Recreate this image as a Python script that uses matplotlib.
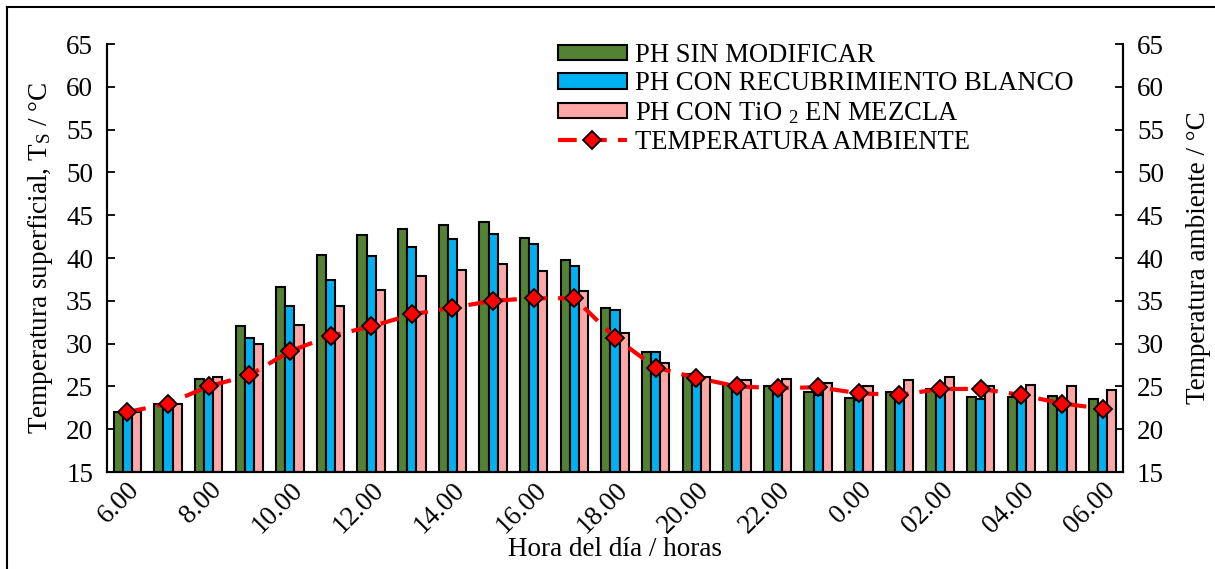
import numpy as np
import matplotlib
matplotlib.use('Agg')
import matplotlib.pyplot as plt
from matplotlib.lines import Line2D

plt.rcParams['font.family'] = ['Liberation Serif', 'DejaVu Serif']
plt.rcParams['mathtext.fontset'] = 'custom'
plt.rcParams['mathtext.rm'] = 'Liberation Serif'
plt.rcParams['mathtext.it'] = 'Liberation Serif:italic'

# ── datos ─────────────────────────────────────────────────────────
horas = ['6.00', '7.00', '8.00', '9.00', '10.00', '11.00', '12.00', '13.00',
         '14.00', '15.00', '16.00', '17.00', '18.00', '19.00', '20.00', '21.00',
         '22.00', '23.00', '0.00', '01.00', '02.00', '03.00', '04.00', '05.00',
         '06.00']
sin_modificar = [22.0, 23.0, 25.9, 32.1, 36.6, 40.3, 42.7, 43.4, 43.9, 44.2,
                 42.3, 39.8, 34.2, 29.0, 26.4, 25.3, 25.0, 24.3, 23.7, 24.3,
                 24.7, 23.8, 23.8, 23.9, 23.5]
recub_blanco = [21.8, 22.8, 25.5, 30.7, 34.4, 37.4, 40.2, 41.3, 42.2, 42.8,
                41.6, 39.1, 33.9, 29.0, 26.0, 25.0, 24.8, 24.0, 23.4, 24.0,
                24.6, 23.5, 23.6, 23.2, 22.4]
tio2_mezcla = [22.0, 23.0, 26.1, 29.9, 32.2, 34.4, 36.3, 37.9, 38.6, 39.3,
               38.5, 36.1, 31.2, 27.7, 26.1, 25.7, 25.9, 25.4, 25.0, 25.8,
               26.1, 25.0, 25.2, 25.1, 24.6]
t_ambiente = [22.0, 23.0, 25.0, 26.3, 29.1, 30.9, 32.0, 33.4, 34.2, 35.0,
              35.3, 35.3, 30.7, 27.2, 26.0, 25.0, 24.8, 24.9, 24.2, 24.0,
              24.7, 24.7, 24.0, 23.0, 22.4]

series = ['PH SIN MODIFICAR', 'PH CON RECUBRIMIENTO BLANCO',
          'PH CON TiO $_{2}$ EN MEZCLA', 'TEMPERATURA AMBIENTE']

FS = 19.5

# ── figura ────────────────────────────────────────────────────────
fig = plt.figure(figsize=(12.15, 5.69), dpi=100)
ax = fig.add_axes([107 / 1215, 97 / 569, 1016 / 1215, 428 / 569])

x = np.arange(len(horas))
w = 0.225
kw = dict(edgecolor='black', linewidth=1.5, zorder=2)
ax.bar(x - w, sin_modificar, w, color='#548235', label=series[0], **kw)
ax.bar(x, recub_blanco, w, color='#00B0F0', label=series[1], **kw)
ax.bar(x + w, tio2_mezcla, w, color='#FFA7A7', label=series[2], **kw)

ax.set_ylim(15, 65)
ax.set_xlim(-0.5, len(horas) - 0.5)
ax.set_yticks(np.arange(15, 66, 5))
ax.set_xticks(x[::2])
ax.set_xticklabels(horas[::2], rotation=45, ha='right', va='top',
                   rotation_mode='anchor')
ax.tick_params(axis='x', length=0, labelsize=FS, pad=4)
ax.tick_params(axis='y', direction='in', length=6, width=1.3, labelsize=FS,
               pad=10)
ax.spines['top'].set_visible(False)
for s in ['left', 'right', 'bottom']:
    ax.spines[s].set_linewidth(1.5)

ax.set_ylabel('Temperatura superficial, T$_{\\rm S}$ / °C', fontsize=FS,
              labelpad=8)
ax.set_xlabel('Hora del día / horas', fontsize=FS, labelpad=-1)

# eje derecho
ax2 = ax.twinx()
ax2.set_ylim(15, 65)
ax2.set_yticks(np.arange(15, 66, 5))
ax2.tick_params(axis='y', direction='in', length=6, width=1.3, labelsize=FS,
                pad=10)
ax2.spines['top'].set_visible(False)
for s in ['left', 'right', 'bottom']:
    ax2.spines[s].set_linewidth(1.5)
ax2.set_ylabel('Temperatura ambiente / °C', fontsize=FS, labelpad=16)

ax2.plot(x, t_ambiente, color='#FF0000', linestyle=(0, (4.5, 2.7)),
         linewidth=3, marker='D', markersize=9, markerfacecolor='#FF0000',
         markeredgecolor='black', markeredgewidth=1.3, zorder=3,
         label=series[3])

h1, l1 = ax.get_legend_handles_labels()
h2, l2 = ax2.get_legend_handles_labels()
leg = ax2.legend(h1 + h2, l1 + l2, loc='upper left',
                 bbox_to_anchor=(440 / 1016, 1.028), frameon=False,
                 fontsize=19.2, handlelength=2.6, handleheight=0.5,
                 handletextpad=0.3, labelspacing=0.14, borderaxespad=0)

# marco exterior
fig.add_artist(Line2D([7 / 1215, 7 / 1215], [0, 1 - 7 / 569],
                      color='black', linewidth=1.5))
fig.add_artist(Line2D([7 / 1215, 1], [1 - 7 / 569, 1 - 7 / 569],
                      color='black', linewidth=1.5))

fig.savefig('out.png', dpi=100)
